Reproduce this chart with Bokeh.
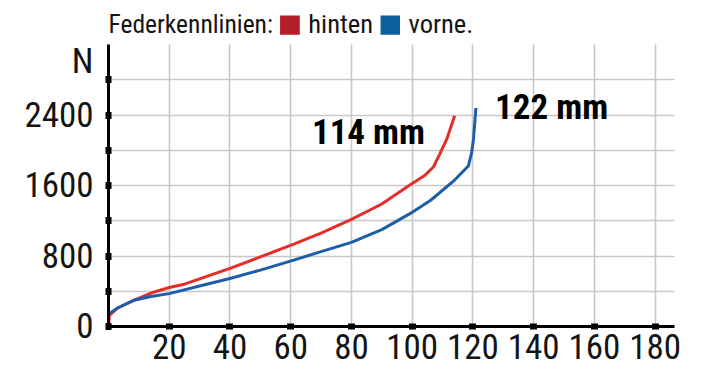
from bokeh.plotting import figure
from bokeh.models import Label, BoxAnnotation, FixedTicker, Range1d
from bokeh.embed import file_html
from bokeh.resources import INLINE

# Federkennlinien (spring curves): travel in mm, force in N
hinten_x = [0, 0.3, 3, 8.3, 14, 20, 25, 30, 40, 50, 61, 70, 80, 90, 99, 104, 107, 109, 111.4, 114]
hinten_y = [0, 126, 210, 297, 380, 442, 480, 540, 659, 790, 934, 1060, 1215, 1390, 1600, 1710, 1810, 1950, 2126, 2392]

vorne_x = [0.2, 3, 8.3, 14, 20, 30, 40, 50, 61, 70, 80, 90, 99, 106, 113.6, 118.5, 119.6, 120.2, 121]
vorne_y = [145, 210, 297, 340, 373, 460, 545, 640, 754, 850, 955, 1100, 1275, 1430, 1649, 1821, 1973, 2126, 2480]

x_ticks = [20, 40, 60, 80, 100, 120, 140, 160, 180]
y_ticks = [0, 400, 800, 1200, 1600, 2000, 2400, 2800]
y_labels = {0: "0", 400: "", 800: "800", 1200: "", 1600: "1600", 2000: "", 2400: "2400", 2800: "N\n\u00a0"}

title_text = "Federkennlinien:"
series_names = ["hinten", "vorne."]
end_labels = ["114 mm", "122 mm"]

AXIS_TOP = 3200
FONT = "Roboto Condensed"
RED_LINE = "#e52e2a"
BLUE_LINE = "#1c5eab"
RED_BOX = "#b41f26"
BLUE_BOX = "#0b5f9a"
TXT = "#141414"

p = figure(width=712, height=380, x_range=Range1d(0, 186.4), y_range=Range1d(0, 3700),
           output_backend="svg", toolbar_location=None,
           min_border_left=108, min_border_right=38, min_border_top=0, min_border_bottom=54)
p.outline_line_color = None
p.background_fill_color = "white"
p.border_fill_color = "white"

for ax in (p.xaxis[0], p.yaxis[0]):
    ax.axis_line_width = 3
    ax.axis_line_color = "black"
    ax.major_tick_line_width = 7
    ax.major_tick_line_color = "black"
    ax.major_tick_in = 3
    ax.major_tick_out = 3
    ax.minor_tick_line_color = None
    ax.major_label_text_font = FONT
    ax.major_label_text_font_size = "35px"
    ax.major_label_text_color = TXT

p.xaxis.ticker = FixedTicker(ticks=x_ticks)
p.yaxis.ticker = FixedTicker(ticks=y_ticks)
p.yaxis.bounds = (0, AXIS_TOP)
p.yaxis.major_label_overrides = y_labels
p.yaxis.major_label_text_line_height = 0.9
p.xaxis.major_label_standoff = 4
p.yaxis.major_label_standoff = 12

p.xgrid.ticker = FixedTicker(ticks=x_ticks)
p.ygrid.ticker = FixedTicker(ticks=y_ticks[1:])
for g in (p.xgrid[0], p.ygrid[0]):
    g.grid_line_color = "#c8c8c8"
    g.grid_line_width = 1.6

# hide vertical grid lines above the top of the y axis (title area)
p.add_layout(BoxAnnotation(left=0, right=186.4, bottom=AXIS_TOP, top=3700, fill_color="white",
                           fill_alpha=1, line_color=None, level="underlay"))

p.line(hinten_x, hinten_y, line_color=RED_LINE, line_width=3)
p.line(vorne_x, vorne_y, line_color=BLUE_LINE, line_width=3)

# end labels
p.add_layout(Label(x=67, y=2203, text=end_labels[0], text_font=FONT, text_font_style="bold",
                   text_font_size="35px", text_color="black", text_baseline="alphabetic"))
p.add_layout(Label(x=127.3, y=2484, text=end_labels[1], text_font=FONT, text_font_style="bold",
                   text_font_size="35px", text_color="black", text_baseline="alphabetic"))

# title / legend line
p.add_layout(Label(x=0, y=3436, text=title_text, text_font=FONT, text_font_size="25.5px",
                   text_color=TXT, text_baseline="alphabetic"))
p.add_layout(BoxAnnotation(left=56.5, right=63.0, bottom=3311, top=3530, fill_color=RED_BOX,
                           fill_alpha=1, line_color=None))
p.add_layout(Label(x=65.8, y=3436, text=series_names[0], text_font=FONT, text_font_size="26.5px",
                   text_color=TXT, text_baseline="alphabetic"))
p.add_layout(BoxAnnotation(left=89.6, right=96.0, bottom=3311, top=3530, fill_color=BLUE_BOX,
                           fill_alpha=1, line_color=None))
p.add_layout(Label(x=98.8, y=3436, text=series_names[1], text_font=FONT, text_font_size="26.5px",
                   text_color=TXT, text_baseline="alphabetic"))

open("out.html", "w").write(file_html(p, INLINE))
